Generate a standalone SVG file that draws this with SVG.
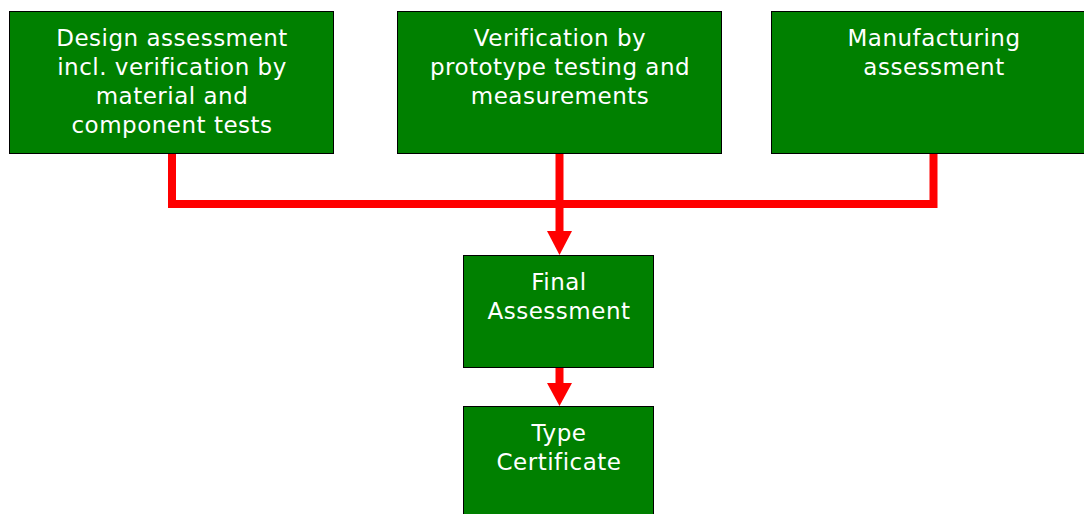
<svg xmlns="http://www.w3.org/2000/svg" width="1084" height="514" viewBox="0 0 1084 514">
<defs>
<style>
.box{fill:#008000;stroke:#000;stroke-width:1}
.t{font-family:"DejaVu Sans",Verdana,sans-serif;font-size:23px;letter-spacing:0.5px;fill:#fff;text-anchor:middle}
.c{fill:none;stroke:#ff0000;stroke-width:8}
.h{fill:#ff0000}
</style>
</defs>
<g id="connectors">
<polyline class="c" points="172,154 172,204 933.5,204 933.5,154"/>
<line class="c" x1="559.5" y1="154" x2="559.5" y2="232"/>
<polygon class="h" points="547,231 572,231 559.5,255"/>
<line class="c" x1="559.5" y1="368" x2="559.5" y2="384"/>
<polygon class="h" points="547,383 572,383 559.5,406"/>
</g>
<g id="design">
<rect class="box" x="9.5" y="11.5" width="324" height="142"/>
<text class="t" x="172" y="46">Design assessment</text>
<text class="t" x="172" y="75">incl. verification by</text>
<text class="t" x="172" y="104">material and</text>
<text class="t" x="172" y="133">component tests</text>
</g>
<g id="verification">
<rect class="box" x="397.5" y="11.5" width="324" height="142"/>
<text class="t" x="560" y="46">Verification by</text>
<text class="t" x="560" y="75">prototype testing and</text>
<text class="t" x="560" y="104">measurements</text>
</g>
<g id="manufacturing">
<rect class="box" x="771.5" y="11.5" width="324" height="142"/>
<text class="t" x="934" y="46">Manufacturing</text>
<text class="t" x="934" y="75">assessment</text>
</g>
<g id="final">
<rect class="box" x="463.5" y="255.5" width="190" height="112"/>
<text class="t" x="559" y="290">Final</text>
<text class="t" x="559" y="319">Assessment</text>
</g>
<g id="certificate">
<rect class="box" x="463.5" y="406.5" width="190" height="120"/>
<text class="t" x="559" y="441">Type</text>
<text class="t" x="559" y="470">Certificate</text>
</g>
</svg>
